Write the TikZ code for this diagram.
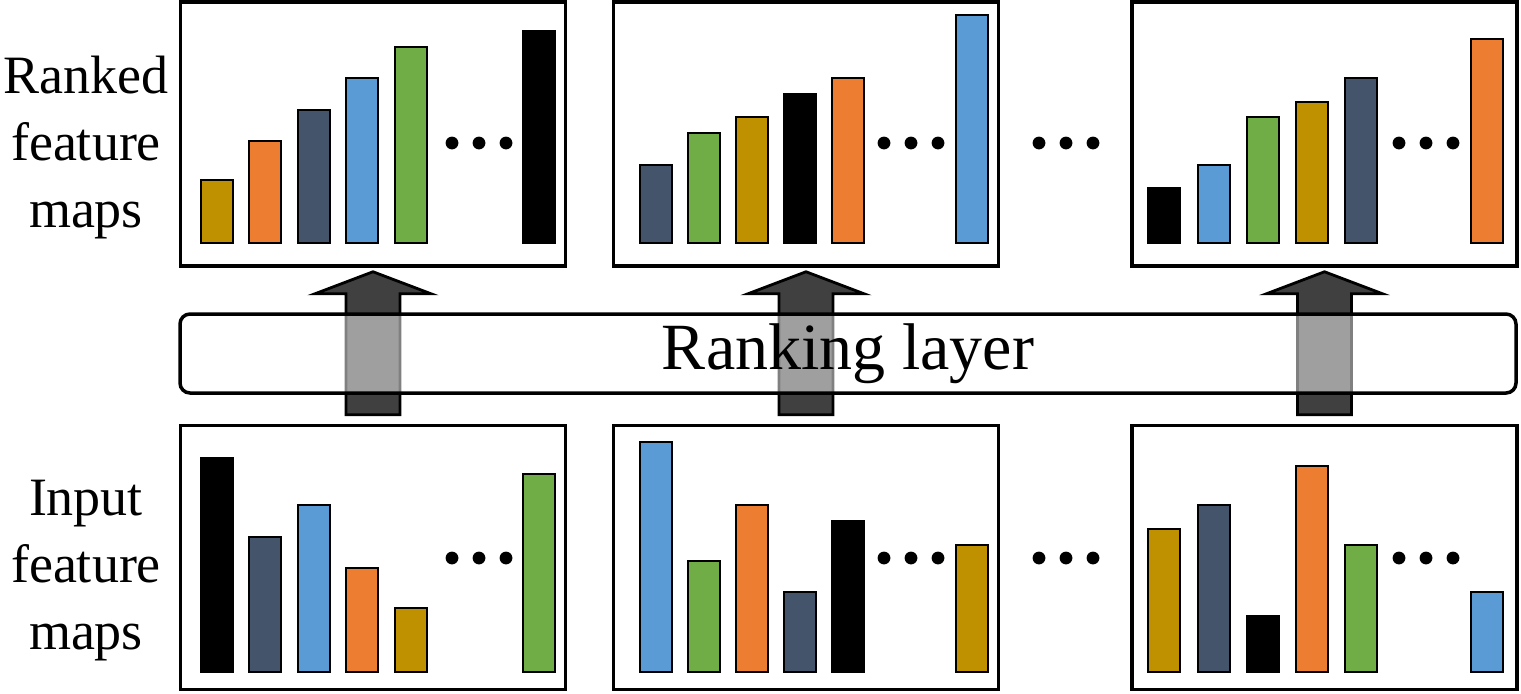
\documentclass[tikz,border=0pt]{standalone}
\usepackage{fontspec}
\setmainfont{Liberation Serif}
\usetikzlibrary{calc}
\definecolor{mapgold}{HTML}{BF9000}
\definecolor{maporange}{HTML}{ED7D31}
\definecolor{mapnavy}{HTML}{44546A}
\definecolor{mapblue}{HTML}{5B9BD5}
\definecolor{mapgreen}{HTML}{70AD47}
\tikzset{
  panel/.style={draw, line width=1.75pt, minimum width=192.5pt, minimum height=132pt, inner sep=0pt},
  bar/.style={draw, line width=0.75pt},
  sidetext/.style={align=center, font=\fontsize{27}{33.5}\selectfont, inner sep=0pt},
  rankbox/.style={draw, line width=1.75pt, rounded corners=5pt, fill=white, fill opacity=0.5, text opacity=1,
    minimum width=668pt, minimum height=39.5pt, font=\fontsize{33}{40}\selectfont},
  blockarrow/.style={draw, line width=1.4pt, fill=black!75}
}
\begin{document}
\begin{tikzpicture}[x=0.5pt, y=-0.5pt]
\useasboundingbox (0,0) rectangle (1521,693);
% panels: out = ranked maps (top), in = input maps (bottom)
\node[panel] (out1) at (373,134) {};
\node[panel] (out2) at (806,134) {};
\node[panel] (out3) at (1324.5,134) {};
\node[panel] (in1) at (373,557.5) {};
\node[panel] (in2) at (806,557.5) {};
\node[panel] (in3) at (1324.5,557.5) {};
\node[sidetext] (outtext) at (86,147.5) {Ranked\\feature\\maps};
\node[sidetext] (intext) at (86,571) {Input\\feature\\maps};
% bars, left edge / top / colour, width 32
\foreach \x/\t/\c in {
  201/180/mapgold, 249/141/maporange, 298/110/mapnavy, 346/78/mapblue, 395/47/mapgreen, 523/31/black,
  640/165/mapnavy, 688/133/mapgreen, 736/117/mapgold, 784/94/black, 832/78/maporange, 956/15/mapblue,
  1148/188/black, 1198/165/mapblue, 1247/117/mapgreen, 1296/102/mapgold, 1345/78/mapnavy, 1471/39/maporange}
  \draw[bar, fill=\c] (\x,243) rectangle (\x+32,\t);
\foreach \x/\t/\c in {
  201/458/black, 249/537/mapnavy, 298/505/mapblue, 346/568/maporange, 395/608/mapgold, 523/474/mapgreen,
  640/442/mapblue, 688/561/mapgreen, 736/505/maporange, 784/592/mapnavy, 832/521/black, 956/545/mapgold,
  1148/529/mapgold, 1198/505/mapnavy, 1247/616/black, 1296/466/maporange, 1345/545/mapgreen, 1471/592/mapblue}
  \draw[bar, fill=\c] (\x,672) rectangle (\x+32,\t);
\foreach \x in {452,479,506,884,911,938,1039,1066,1093,1399,1426,1453}{
  \fill (\x,143) circle (3.2pt);
  \fill (\x,558) circle (3.2pt);
}
% block arrows from input to ranked maps
\foreach \i in {1,2,3}
  \draw[blockarrow] ($(in\i.north)+(-27,-9)$) -- ($(out\i.south)+(-27,26)$) -- ++(-31,0)
    -- ($(out\i.south)+(0,4)$) -- ($(out\i.south)+(58,26)$) -- ++(-31,0)
    -- ($(in\i.north)+(27,-9)$) -- cycle;
\node[rankbox] (rank) at (848,353.5) {Ranking layer};
\end{tikzpicture}
\end{document}
